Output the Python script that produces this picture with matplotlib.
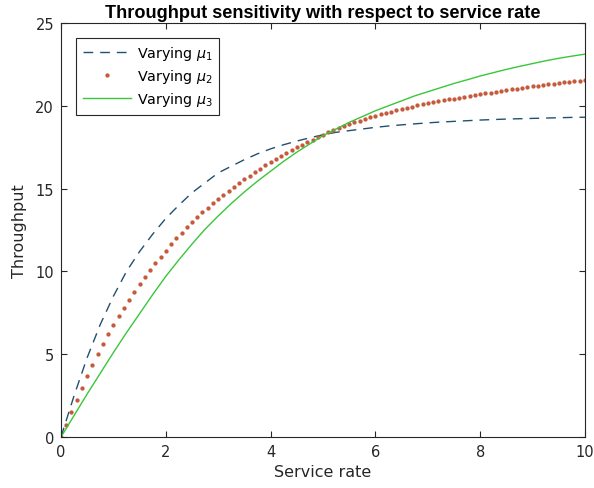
import matplotlib
matplotlib.use("Agg")
import matplotlib.pyplot as plt

# -----------------------------
# Data
# -----------------------------
# varying mu_1 / mu_3 : sampled every 0.25
x_coarse = [0, 0.25, 0.5, 0.75, 1.0, 1.25, 1.5, 1.75, 2.0, 2.25, 2.5, 2.75,
            3.0, 3.25, 3.5, 3.75, 4.0, 4.25, 4.5, 4.75, 5.0, 5.25, 5.5, 5.75,
            6.0, 6.25, 6.5, 6.75, 7.0, 7.25, 7.5, 7.75, 8.0, 8.25, 8.5, 8.75,
            9.0, 9.25, 9.5, 9.75, 10.0]

thr_mu1 = [0, 2.5, 4.8, 6.8, 8.5, 10.0, 11.2, 12.25, 13.2, 14.0, 14.75, 15.35,
           15.95, 16.35, 16.75, 17.1, 17.4, 17.65, 17.87, 18.07, 18.25, 18.4,
           18.5, 18.6, 18.7, 18.78, 18.85, 18.91, 18.97, 19.02, 19.06, 19.1,
           19.14, 19.17, 19.2, 19.22, 19.24, 19.26, 19.28, 19.3, 19.31]

thr_mu3 = [0, 1.3, 2.6, 3.85, 5.1, 6.3, 7.45, 8.6, 9.7, 10.7, 11.65, 12.55,
           13.35, 14.1, 14.8, 15.45, 16.05, 16.65, 17.2, 17.7, 18.2, 18.6,
           19.0, 19.35, 19.7, 20.0, 20.3, 20.6, 20.85, 21.1, 21.35, 21.57,
           21.8, 22.0, 22.2, 22.38, 22.55, 22.72, 22.87, 23.0, 23.12]

# varying mu_2 : every dot, 0.1 apart
x_fine = [i / 10 for i in range(101)]

thr_mu2 = [0, 0.75, 1.5, 2.24, 2.96, 3.66, 4.34, 4.99, 5.61, 6.2,
           6.76, 7.3, 7.81, 8.3, 8.77, 9.22, 9.65, 10.07, 10.48, 10.88,
           11.26, 11.63, 11.99, 12.33, 12.66, 12.98, 13.28, 13.57, 13.85, 14.11,
           14.36, 14.61, 14.86, 15.1, 15.33, 15.56, 15.78, 15.99, 16.2, 16.4,
           16.6, 16.79, 16.97, 17.15, 17.32, 17.49, 17.65, 17.81, 17.96, 18.11,
           18.25, 18.39, 18.52, 18.65, 18.77, 18.89, 19.0, 19.11, 19.21, 19.31,
           19.4, 19.49, 19.57, 19.65, 19.73, 19.81, 19.88, 19.95, 20.02, 20.09,
           20.15, 20.21, 20.27, 20.33, 20.39, 20.44, 20.5, 20.55, 20.6, 20.65,
           20.7, 20.75, 20.8, 20.85, 20.9, 20.94, 20.99, 21.03, 21.08, 21.12,
           21.17, 21.21, 21.25, 21.29, 21.33, 21.37, 21.41, 21.45, 21.49, 21.52,
           21.56]

x_ticks = [0, 2, 4, 6, 8, 10]
y_ticks = [0, 5, 10, 15, 20, 25]

# -----------------------------
# Plot
# -----------------------------
plt.rcParams['font.family'] = ['DejaVu Sans']
plt.rcParams['mathtext.fontset'] = 'dejavusans'

fig = plt.figure(figsize=(5.94, 4.89), dpi=100)
ax = fig.add_axes([0.1027, 0.1043, 0.8821, 0.8466])

ax.plot(x_coarse, thr_mu1, color='#22506f', lw=1.0, linestyle=(0, (7, 5)),
        label=r'Varying $\mu_1$')
ax.plot(x_fine, thr_mu2, color='#c65a3c', linestyle='none', marker='o',
        markersize=3.1, markeredgewidth=0, label=r'Varying $\mu_2$')
ax.plot(x_coarse, thr_mu3, color='#3ac63a', lw=1.0, label=r'Varying $\mu_3$')

ax.set_xlim(0, 10)
ax.set_ylim(0, 25)
ax.set_xticks(x_ticks)
ax.set_yticks(y_ticks)
ax.tick_params(direction='in', top=True, right=True, length=4, width=0.8,
               labelsize=10.5, colors='#262626', pad=5)
for s in ax.spines.values():
    s.set_color('#262626')
    s.set_linewidth(0.8)

ax.set_xlabel('Service rate', fontsize=11.5, color='#262626', labelpad=4)
ax.set_ylabel('Throughput', fontsize=11.5, color='#262626', labelpad=6)
ax.set_title('Throughput sensitivity with respect to service rate',
             fontsize=13.1, fontweight='bold', pad=4, family='Liberation Sans')

leg = ax.legend(loc='upper left', bbox_to_anchor=(0.029, 0.964),
                borderaxespad=0, fancybox=False, edgecolor='#262626',
                framealpha=1, fontsize=10.3, handlelength=3.4, numpoints=1,
                labelspacing=0.35, borderpad=0.45, handletextpad=0.4)
leg.get_frame().set_linewidth(0.8)

plt.savefig('out.png', dpi=100)
